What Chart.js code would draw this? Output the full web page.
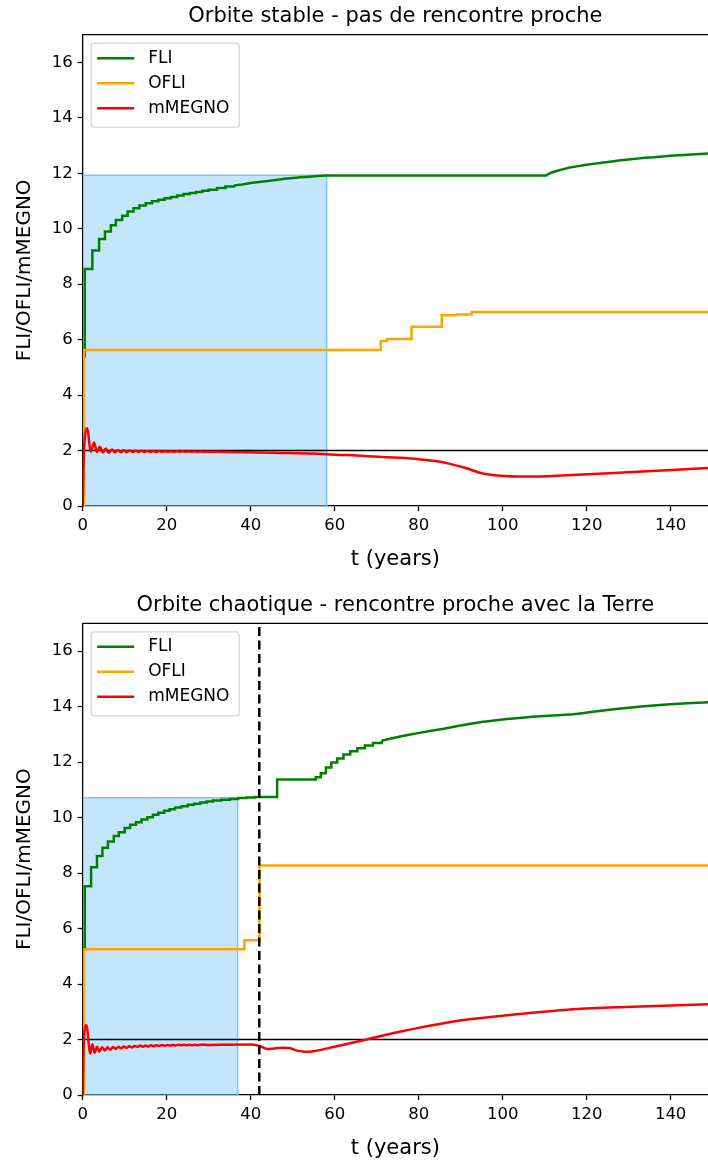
<!DOCTYPE html>
<html>
<head>
<meta charset="utf-8">
<script src="https://cdn.jsdelivr.net/npm/chart.js@4.4.1/dist/chart.umd.min.js"></script>
<style>
  body { margin: 0; background: #fff; }
  canvas { position: absolute; left: 0; }
  #stable { top: 0; }
  #chaos { top: 582px; }
</style>
</head>
<body>
<canvas id="stable" width="708" height="582"></canvas>
<canvas id="chaos" width="708" height="582"></canvas>
<script>
// --- stable orbit ---
// FLI: staircase part (one point per step start), then the smooth tail
const stableFliStepT = [0, 0.5, 2.3, 3.9, 5.3, 6.7, 7.9, 9.4, 10.7, 12.1, 13.5, 15.0, 16.5, 18.0, 19.5, 21.0, 22.5, 24.0,
  25.5, 27.0, 28.5, 30.0, 32, 34, 36];
const stableFliStep = [5.4, 8.55, 9.22, 9.63, 9.9, 10.13, 10.32, 10.47, 10.62, 10.74, 10.84, 10.92, 10.99, 11.05, 11.1, 11.15, 11.2, 11.25,
  11.29, 11.33, 11.37, 11.41, 11.47, 11.52, 11.56];
const stableFliT = [36, 38, 40, 42, 44, 46, 48, 50, 52, 54, 56, 58, 110.4, 110.7, 111.5, 113, 114.5, 116, 118, 120,
  122, 124, 126, 128, 130, 132, 134, 136, 138, 140, 142, 144, 146, 148, 150];
const stableFli = [11.56, 11.6, 11.65, 11.69, 11.72, 11.76, 11.8, 11.83, 11.86, 11.88, 11.9, 11.92, 11.92, 11.96, 12.02, 12.09, 12.15, 12.21, 12.26, 12.31,
  12.35, 12.39, 12.43, 12.47, 12.5, 12.53, 12.56, 12.58, 12.61, 12.63, 12.65, 12.67, 12.69, 12.71, 12.73];

const stableOfliT = [0, 0.3, 71, 72.5, 78.3, 85.5, 89, 92.6, 150];
const stableOfli = [0, 5.63, 5.95, 6.02, 6.47, 6.88, 6.91, 7.0, 7.0];

const stableMegnoT = [0, 0.3, 1.1, 1.9, 2.7, 3.4, 4.1, 4.8, 5.5, 6.2, 7.0, 7.7, 8.4, 9.1, 9.8, 10.5, 11.2, 11.9,
  12.6, 13.3, 14.0, 14.7, 15.4, 16.1, 16.8, 17.5, 18.2, 18.9, 19.6, 20.3, 21.0, 21.7, 22.4, 23.1, 23.8, 24.5,
  25.2, 25.9, 26.6, 27.3, 28.0, 30, 35, 45, 58, 65, 75.6, 80, 84, 87.5, 91.4, 94.6, 99.4, 105.7, 115.2, 131, 150];
const stableMegno = [0, 2.0, 2.8, 1.96, 2.29, 1.94, 2.14, 1.93, 2.07, 1.92, 2.04, 1.93, 2.02, 1.94, 2.01, 1.94, 2.0, 1.945,
  1.995, 1.945, 1.99, 1.95, 1.985, 1.95, 1.98, 1.95, 1.98, 1.952, 1.978, 1.952, 1.976, 1.953, 1.974, 1.953, 1.972, 1.953,
  1.97, 1.953, 1.968, 1.953, 1.965, 1.958, 1.95, 1.92, 1.87, 1.82, 1.74, 1.69, 1.62, 1.52, 1.36, 1.2, 1.09, 1.06, 1.11, 1.23, 1.38];

// --- chaotic orbit (close encounter with the Earth) ---
const chaosFliStepT = [0, 0.5, 2.0, 3.4, 4.7, 6.0, 7.4, 8.6, 10.0, 11.3, 12.7, 14.0, 15.4, 16.7, 18.0, 19.4, 20.7, 22.0,
  23.5, 25.0, 26.5, 28.0, 29.5, 31.0, 33, 35, 37, 39, 41, 46.3, 55.5, 56.7, 57.9, 59.2, 60.6, 62.1,
  63.7, 65.4, 67.2, 69.1, 71.2];
const chaosFliStep = [5.3, 7.52, 8.21, 8.61, 8.91, 9.14, 9.33, 9.47, 9.62, 9.74, 9.83, 9.93, 10.01, 10.1, 10.17, 10.24, 10.3, 10.36,
  10.41, 10.46, 10.5, 10.54, 10.58, 10.61, 10.64, 10.67, 10.7, 10.72, 10.74, 11.37, 11.45, 11.6, 11.8, 11.98, 12.13, 12.27,
  12.39, 12.5, 12.6, 12.69, 12.77];
const chaosFliT = [71.2, 73.4, 75.6, 78, 80.5, 83, 86, 89, 92, 95, 98, 101, 104, 107,
  110, 113, 116.8, 119, 121, 124, 127, 130, 133, 136, 139, 142, 145, 148, 150];
const chaosFli = [12.77, 12.85, 12.92, 12.99, 13.06, 13.13, 13.2, 13.29, 13.37, 13.44, 13.5, 13.55, 13.59, 13.63,
  13.66, 13.69, 13.72, 13.76, 13.8, 13.86, 13.91, 13.96, 14.0, 14.04, 14.07, 14.1, 14.13, 14.15, 14.16];

const chaosOfliT = [0, 0.3, 38.5, 42.1, 150];
const chaosOfli = [0, 5.25, 5.58, 8.27, 8.27];

const chaosMegnoT = [0, 0.25, 0.86, 1.8, 2.3, 2.85, 3.4, 3.95, 4.6, 5.25, 5.9, 6.55, 7.2, 7.85, 8.5, 9.15, 9.8, 10.45,
  11.1, 11.75, 12.4, 13.05, 13.7, 14.35, 15.0, 15.65, 16.3, 16.95, 17.6, 18.25, 18.9, 19.55, 20.2, 20.85, 21.5, 22.15,
  22.8, 23.45, 24.1, 24.75, 25.4, 26.05, 26.7, 27.35, 28.0, 30, 35, 40, 42, 44.2, 45.5, 47.5, 49.2, 51,
  52.9, 55, 60, 67.6, 75.5, 80, 89, 99.4, 116.8, 131, 150];
const chaosMegno = [0, 1.9, 2.52, 1.5, 1.83, 1.52, 1.74, 1.56, 1.72, 1.6, 1.72, 1.63, 1.73, 1.66, 1.74, 1.68, 1.75, 1.7,
  1.76, 1.71, 1.77, 1.73, 1.78, 1.74, 1.78, 1.75, 1.79, 1.76, 1.79, 1.77, 1.8, 1.775, 1.8, 1.78, 1.805, 1.785,
  1.81, 1.79, 1.81, 1.79, 1.81, 1.795, 1.812, 1.797, 1.812, 1.805, 1.815, 1.82, 1.77, 1.65, 1.68, 1.7, 1.69, 1.6,
  1.56, 1.58, 1.74, 2.0, 2.28, 2.42, 2.67, 2.85, 3.09, 3.18, 3.28];

// shaded windows [tEnd, height], encounter time, reference level
const stableWindow = [58.1, 11.93];
const chaosWindow = [36.9, 10.71];
const encounterT = 42.05;
const megnoRef = 2;

const xTicks = [0, 20, 40, 60, 80, 100, 120, 140];
const yTicks = [0, 2, 4, 6, 8, 10, 12, 14, 16];

const FONT = "'DejaVu Sans', sans-serif";
const pts = (t, v) => t.map((x, i) => ({ x: x, y: v[i] }));

// matplotlib-style legend box in the upper left corner
const boxLegend = {
  id: 'boxLegend',
  afterDraw(chart) {
    const { ctx, chartArea } = chart;
    const items = chart.data.datasets.filter(d => d.label);
    const x0 = chartArea.left + 8.5, y0 = chartArea.top + 8.5, w = 148, h = 84;
    ctx.save();
    ctx.beginPath();
    ctx.roundRect(x0, y0, w, h, 3);
    ctx.fillStyle = 'rgba(255,255,255,0.8)';
    ctx.fill();
    ctx.strokeStyle = '#d6d6d6';
    ctx.lineWidth = 1.3;
    ctx.stroke();
    items.forEach((d, i) => {
      const cy = y0 + 15 + i * 25;
      ctx.strokeStyle = d.borderColor;
      ctx.lineWidth = 2.5;
      ctx.beginPath();
      ctx.moveTo(x0 + 6, cy);
      ctx.lineTo(x0 + 43, cy);
      ctx.stroke();
      ctx.fillStyle = '#000';
      ctx.font = '17px ' + FONT;
      ctx.textBaseline = 'middle';
      ctx.fillText(d.label, x0 + 57, cy);
    });
    ctx.restore();
  }
};

// top spine
const topSpine = {
  id: 'topSpine',
  afterDatasetsDraw(chart) {
    const { ctx, chartArea } = chart;
    ctx.save();
    ctx.strokeStyle = '#000';
    ctx.lineWidth = 1.3;
    ctx.beginPath();
    ctx.moveTo(chartArea.left, chartArea.top);
    ctx.lineTo(chartArea.right, chartArea.top);
    ctx.stroke();
    ctx.restore();
  }
};

function makeChart(id, o) {
  const datasets = [
    { label: 'FLI', data: pts(o.fliStepT, o.fliStep), borderColor: 'green', stepped: true, order: 3 },
    { data: pts(o.fliT, o.fli), borderColor: 'green', order: 3 },
    { label: 'OFLI', data: pts(o.ofliT, o.ofli), borderColor: '#ffa500', stepped: true, order: 2 },
    { label: 'mMEGNO', data: pts(o.megnoT, o.megno), borderColor: '#ff0000', cubicInterpolationMode: 'monotone', order: 1 },
    { data: [{ x: 0, y: megnoRef }, { x: 150, y: megnoRef }], borderColor: '#000', borderWidth: 1.6, order: 4 },
    { data: [{ x: 0, y: o.win[1] }, { x: o.win[0], y: o.win[1] }, { x: o.win[0], y: 0 }],
      borderColor: '#86c2f4', borderWidth: 1.5, backgroundColor: 'rgba(135,206,250,0.5)', fill: 'origin', order: 5 }
  ];
  if (o.vline) {
    datasets.push({ data: [{ x: encounterT, y: 0 }, { x: encounterT, y: 17 }],
      borderColor: '#000', borderWidth: 2.5, borderDash: [9, 4.5], order: 0 });
  }
  return new Chart(document.getElementById(id), {
    type: 'line',
    data: { datasets: datasets },
    options: {
      responsive: false,
      animation: false,
      events: [],
      layout: { padding: 0 },
      elements: {
        point: { radius: 0 },
        line: { borderWidth: 2.5, tension: 0, fill: false }
      },
      plugins: {
        legend: { display: false },
        tooltip: { enabled: false },
        title: {
          display: true, text: o.title, fullSize: false, color: '#000',
          font: { family: FONT, size: 21, weight: 'normal', lineHeight: 1.2 },
          padding: o.titlePad
        }
      },
      scales: {
        x: {
          type: 'linear', min: 0, max: 148.9,
          afterFit: s => { s.height = o.xAxisH; },
          afterBuildTicks: s => { s.ticks = xTicks.map(v => ({ value: v })); },
          ticks: { color: '#000', font: { family: FONT, size: 16.5 }, padding: 5, maxRotation: 0, includeBounds: false },
          grid: { drawOnChartArea: false, tickLength: 5, tickColor: '#000', tickWidth: 1.3 },
          border: { color: '#000', width: 1.3 },
          title: { display: true, text: 't (years)', color: '#000',
            font: { family: FONT, size: 21, lineHeight: 1.2 }, padding: { top: 0, bottom: o.xTitleBottom } }
        },
        y: {
          type: 'linear', min: 0, max: 17,
          afterFit: s => { s.width = 82.7; },
          afterBuildTicks: s => { s.ticks = yTicks.map(v => ({ value: v })); },
          ticks: { color: '#000', font: { family: FONT, size: 16.5 }, padding: 5, includeBounds: false },
          grid: { drawOnChartArea: false, tickLength: 5, tickColor: '#000', tickWidth: 1.3 },
          border: { color: '#000', width: 1.3 },
          title: { display: true, text: 'FLI/OFLI/mMEGNO', color: '#000',
            font: { family: FONT, size: 20, lineHeight: 1.2 }, padding: { top: 12.4, bottom: 0 } }
        }
      }
    },
    plugins: [topSpine, boxLegend]
  });
}

makeChart('stable', {
  title: 'Orbite stable - pas de rencontre proche',
  titlePad: { top: 4.4, bottom: 5.1 },
  xAxisH: 76, xTitleBottom: 9.4,
  fliStepT: stableFliStepT, fliStep: stableFliStep,
  fliT: stableFliT, fli: stableFli,
  ofliT: stableOfliT, ofli: stableOfli,
  megnoT: stableMegnoT, megno: stableMegno,
  win: stableWindow, vline: false
});

makeChart('chaos', {
  title: 'Orbite chaotique - rencontre proche avec la Terre',
  titlePad: { top: 11.4, bottom: 4.7 },
  xAxisH: 69, xTitleBottom: 2.4,
  fliStepT: chaosFliStepT, fliStep: chaosFliStep,
  fliT: chaosFliT, fli: chaosFli,
  ofliT: chaosOfliT, ofli: chaosOfli,
  megnoT: chaosMegnoT, megno: chaosMegno,
  win: chaosWindow, vline: true
});
</script>
</body>
</html>
